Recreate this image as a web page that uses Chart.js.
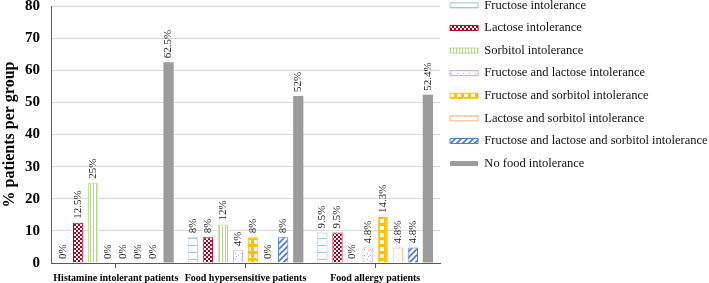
<!DOCTYPE html>
<html>
<head>
<meta charset="utf-8">
<script src="https://cdn.jsdelivr.net/npm/chart.js@4.4.0/dist/chart.umd.min.js"></script>
<style>
  html, body { margin: 0; padding: 0; background: #fff; }
</style>
</head>
<body>
<canvas id="chart" width="709" height="283"></canvas>
<script>
const groups = ['Histamine intolerant patients', 'Food hypersensitive patients', 'Food allergy patients'];
const seriesNames = [
  'Fructose intolerance',
  'Lactose intolerance',
  'Sorbitol intolerance',
  'Fructose and lactose intolerance',
  'Fructose and sorbitol intolerance',
  'Lactose and sorbitol intolerance',
  'Fructose and lactose and sorbitol intolerance',
  'No food intolerance'
];
const fructose = [0, 8, 9.5];
const lactose = [12.5, 8, 9.5];
const sorbitol = [25, 12, 0];
const fructoseLactose = [0, 4, 4.8];
const fructoseSorbitol = [0, 8, 14.3];
const lactoseSorbitol = [0, 0, 4.8];
const allThree = [0, 8, 4.8];
const noIntolerance = [62.5, 52, 52.4];
const yMax = 80;
const yStep = 10;

const canvas = document.getElementById('chart');
const ctx = canvas.getContext('2d');
const serif = '"Liberation Serif", "Times New Roman", serif';

// little tiles for the hatch fills
function makePattern(w, h, paint) {
  const c = document.createElement('canvas');
  c.width = w;
  c.height = h;
  const g = c.getContext('2d');
  paint(g, w, h);
  return ctx.createPattern(c, 'repeat');
}

const blue = '#9dc3e6', red = '#b0001e', green = '#b5d88a', purple = '#c8a2dc',
      gold = '#ffc000', orange = '#f4b183', darkBlue = '#4a78d0', grey = '#9b9b9b';

const pFructose = makePattern(8, 7, (g, w, h) => {
  g.fillStyle = '#fff'; g.fillRect(0, 0, w, h);
  g.fillStyle = blue; g.fillRect(0, 0, w, 1);
});
const pLactose = makePattern(4, 4, (g) => {
  g.fillStyle = red; g.fillRect(0, 0, 4, 4);
  g.fillStyle = '#fff'; g.fillRect(0, 0, 2, 2); g.fillRect(2, 2, 2, 2);
});
const pSorbitol = makePattern(3, 3, (g) => {
  g.fillStyle = '#fff'; g.fillRect(0, 0, 3, 3);
  g.fillStyle = green; g.fillRect(0, 0, 1, 3);
});
const pFL = makePattern(6, 6, (g) => {
  g.fillStyle = '#fff'; g.fillRect(0, 0, 6, 6);
  g.fillStyle = purple; g.fillRect(1, 1, 1, 1); g.fillRect(4, 3, 1, 1); g.fillRect(2, 4, 1, 1);
});
const pFS = makePattern(7, 7, (g) => {
  g.fillStyle = gold; g.fillRect(0, 0, 7, 7);
  g.fillStyle = '#fff'; g.fillRect(2, 2, 4, 4);
});
const pLS = makePattern(6, 6, (g) => {
  g.fillStyle = '#fff'; g.fillRect(0, 0, 6, 6);
  g.fillStyle = orange; g.fillRect(2, 2, 1, 1);
});
const pAll = makePattern(6, 6, (g) => {
  g.fillStyle = '#fff'; g.fillRect(0, 0, 6, 6);
  g.strokeStyle = darkBlue; g.lineWidth = 1.6;
  g.beginPath();
  g.moveTo(-1, 7); g.lineTo(7, -1);
  g.moveTo(-4, 4); g.lineTo(4, -4);
  g.moveTo(2, 10); g.lineTo(10, 2);
  g.stroke();
});

const seriesData = [fructose, lactose, sorbitol, fructoseLactose, fructoseSorbitol, lactoseSorbitol, allThree, noIntolerance];
const fills = [pFructose, pLactose, pSorbitol, pFL, pFS, pLS, pAll, grey];
const borders = [blue, red, green, purple, gold, orange, darkBlue, grey];

const datasets = seriesNames.map((name, i) => ({
  label: name,
  data: seriesData[i],
  backgroundColor: fills[i],
  borderColor: borders[i],
  borderWidth: i === 7 ? 0 : 1,
  categoryPercentage: 0.93,
  barPercentage: 0.68
}));

// percent labels written upward over every bar
const valueLabels = {
  id: 'valueLabels',
  afterDatasetsDraw(chart) {
    const c = chart.ctx;
    c.save();
    c.font = '11px ' + serif;
    c.fillStyle = '#222';
    c.textAlign = 'left';
    c.textBaseline = 'middle';
    chart.data.datasets.forEach((ds, i) => {
      chart.getDatasetMeta(i).data.forEach((bar, j) => {
        c.save();
        c.translate(bar.x, bar.y - 4);
        c.rotate(-Math.PI / 2);
        c.fillText(ds.data[j] + '%', 0, 0);
        c.restore();
      });
    });
    c.restore();
  }
};

// legend starts right at the top edge in the original
const legendShift = {
  id: 'legendShift',
  afterLayout(chart) {
    chart.legend.top -= 11;
  }
};

new Chart(ctx, {
  type: 'bar',
  data: { labels: groups, datasets: datasets },
  options: {
    responsive: false,
    devicePixelRatio: 1,
    animation: false,
    layout: { padding: 0 },
    plugins: {
      legend: {
        position: 'right',
        align: 'start',
        maxWidth: 269,
        labels: {
          boxWidth: 28,
          boxHeight: 5,
          padding: 10.1,
          color: '#111',
          font: { family: serif, size: 12.5 }
        }
      },
      tooltip: { enabled: false }
    },
    scales: {
      x: {
        grid: { drawOnChartArea: false, offset: false, tickLength: 5, tickColor: '#595959' },
        border: { color: '#595959' },
        ticks: { color: '#000', padding: 4, maxRotation: 0, autoSkip: false, font: { family: serif, size: 10, weight: 'bold' } },
        afterFit(scale) { scale.height = 20; }
      },
      y: {
        min: 0,
        max: yMax,
        ticks: { stepSize: yStep, color: '#000', padding: 11, font: { family: serif, size: 15, weight: 'bold' } },
        grid: { color: '#d9d9d9', drawTicks: false },
        border: { color: '#595959' },
        title: { display: true, text: '% patients per group', color: '#000', padding: { top: 0, bottom: 2 }, font: { family: serif, size: 16, weight: 'bold' } },
        afterFit(scale) {
          scale.width = 51;
          scale.paddingTop = 6;
          scale.paddingBottom = 0;
        }
      }
    }
  },
  plugins: [valueLabels, legendShift]
});
</script>
</body>
</html>
